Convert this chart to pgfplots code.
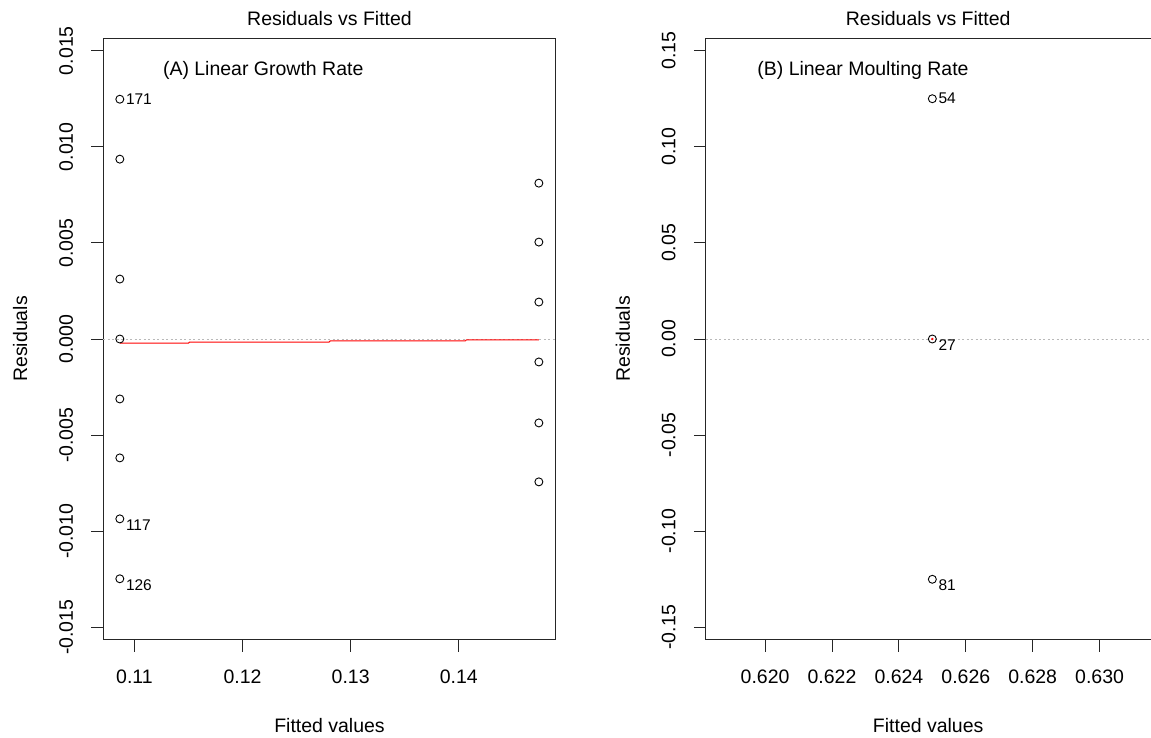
\documentclass[border=0pt]{standalone}
\usepackage{fontspec}
\setmainfont{Liberation Sans}
\usepackage{pgfplots}
\pgfplotsset{compat=1.18}

\pgfplotsset{
  rdiag/.style={
    scale only axis, width=453pt, height=602pt,
    axis line style={line width=0.9pt, black!85},
    every tick/.style={line width=0.9pt, black!85},
    tick align=outside, major tick length=12pt,
    tick pos=left,
    scaled x ticks=false, scaled y ticks=false,
    font=\fontsize{19.5}{23}\selectfont,
    xticklabel style={anchor=north, inner sep=0pt, yshift=-18pt},
    yticklabel style={xshift=-18pt, rotate=90, anchor=south, inner sep=0pt},
    xlabel style={at={([yshift=-86pt]axis description cs:0.5,0)}, anchor=center},
    ylabel style={at={([xshift=-83pt]axis description cs:0,0.5)}, anchor=center},
    title style={at={([yshift=13.5pt]axis description cs:0.5,1)}, anchor=center},
    title={Residuals vs Fitted},
    xlabel={Fitted values},
    ylabel={Residuals},
    clip=false,
  },
  pts/.style={only marks, mark=o, mark size=4pt, black, mark options={line width=0.9pt}},
  zeroline/.style={gray!55, line width=0.8pt, dash pattern=on 2pt off 2.5pt},
}
\tikzset{idlab/.style={font=\fontsize{15.5}{18}\selectfont, anchor=west, inner sep=0pt, xshift=6pt}}

\begin{document}
\begin{tikzpicture}
\draw[white] (0pt,0pt) rectangle (1151pt,738pt);

% (A) growth rate model
\begin{axis}[rdiag, at={(103pt,98pt)}, anchor=south west,
  xmin=0.107107, xmax=0.148974, ymin=-0.01565, ymax=0.01565,
  xtick={0.11,0.12,0.13,0.14}, xticklabels={0.11,0.12,0.13,0.14},
  ytick={-0.015,-0.010,-0.005,0,0.005,0.010,0.015},
  yticklabels={-0.015,-0.010,-0.005,0.000,0.005,0.010,0.015}]
  \addplot[zeroline] coordinates {(0.107107,0) (0.148974,0)};
  \addplot[red, line width=1pt] coordinates {
    (0.10865,-0.00022) (0.1150,-0.00022) (0.1151,-0.00016) (0.1280,-0.00016)
    (0.1281,-0.00010) (0.1406,-0.00010) (0.1407,-0.00004) (0.1474,-0.00004)};
  \addplot[pts] coordinates {
    (0.10865,0.012474) (0.10865,0.009356) (0.10865,0.003119) (0.10865,0.000000)
    (0.10865,-0.003119) (0.10865,-0.006185) (0.10865,-0.009356) (0.10865,-0.012474)
    (0.14740,0.008108) (0.14740,0.005042) (0.14740,0.001923) (0.14740,-0.001195)
    (0.14740,-0.004366) (0.14740,-0.007432)};
  \node[idlab] at (axis cs:0.10865,0.012474) {171};
  \node[idlab, yshift=-6pt] at (axis cs:0.10865,-0.009356) {117};
  \node[idlab, yshift=-6pt] at (axis cs:0.10865,-0.012474) {126};
  \node[anchor=west, inner sep=0pt] at (axis description cs:0.1318,0.9468) {(A) Linear Growth Rate};
\end{axis}

% (B) moulting rate model; the frame runs on past the page's right edge
\begin{axis}[rdiag, at={(706pt,98pt)}, anchor=south west,
  width=445pt, axis lines*=left, separate axis lines,
  xmin=0.618228, xmax=0.631523, ymin=-0.1565, ymax=0.1565,
  xtick={0.620,0.622,0.624,0.626,0.628,0.630},
  xticklabels={0.620,0.622,0.624,0.626,0.628,0.630},
  ytick={-0.15,-0.10,-0.05,0,0.05,0.10,0.15},
  yticklabels={-0.15,-0.10,-0.05,0.00,0.05,0.10,0.15},
  x axis line style={-}, y axis line style={-}]
  \addplot[black!85, line width=0.9pt] coordinates {(0.618228,0.1565) (0.631523,0.1565)};
  \addplot[zeroline] coordinates {(0.618228,0) (0.631523,0)};
  \addplot[only marks, mark=*, mark size=1pt, red] coordinates {(0.625,0)};
  \addplot[pts] coordinates {(0.625,0.125) (0.625,0.000) (0.625,-0.125)};
  \node[idlab] at (axis cs:0.625,0.125) {54};
  \node[idlab, yshift=-6pt] at (axis cs:0.625,0) {27};
  \node[idlab, yshift=-6pt] at (axis cs:0.625,-0.125) {81};
  \node[anchor=west, inner sep=0pt] at (axis description cs:0.1155,0.9468) {(B) Linear Moulting Rate};
\end{axis}
\end{tikzpicture}
\end{document}
